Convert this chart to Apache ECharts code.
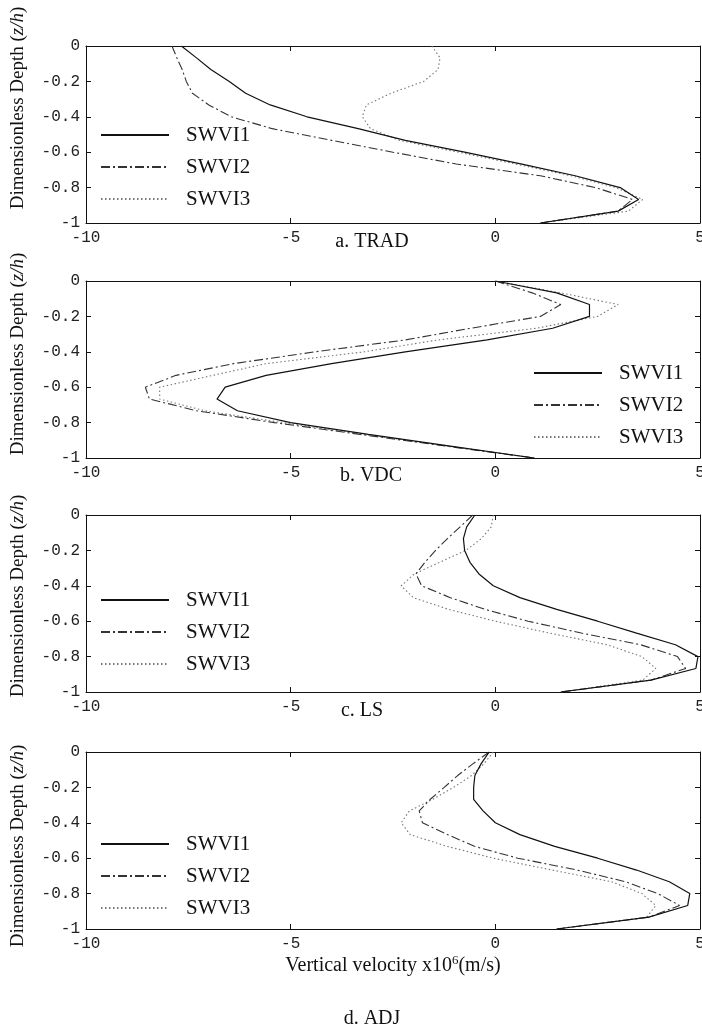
<!DOCTYPE html>
<html>
<head>
<meta charset="utf-8">
<script src="https://cdn.jsdelivr.net/npm/echarts@6/dist/echarts.min.js"></script>
<style>
html,body{margin:0;padding:0;background:#fff;overflow:hidden;}
#chart{width:702px;height:1025px;}
</style>
</head>
<body>
<div id="chart"></div>
<script>
// ---- data ----
const depth = [0, -0.067, -0.133, -0.2, -0.267, -0.333, -0.4, -0.467, -0.533, -0.6, -0.667, -0.733, -0.8, -0.867, -0.933, -1];
const seriesNames = ['SWVI1', 'SWVI2', 'SWVI3'];
const panelTitles = ['a. TRAD', 'b. VDC', 'c. LS', 'd. ADJ'];
const xTickLabels = ['-10', '-5', '0', '5'];
const yTickLabels = ['-1', '-0.8', '-0.6', '-0.4', '-0.2', '0'];
const yAxisTitle = 'Dimensionless Depth (';
const yAxisTitleItalic = 'z/h';
const xAxisTitle = 'Vertical velocity x10';
const xAxisTitleSup = '6';
const xAxisTitleUnit = '(m/s)';

// TRAD
const tradSWVI1 = [-7.67, -7.3, -6.95, -6.5, -6.1, -5.5, -4.6, -3.35, -2.2, -0.75, 0.65, 1.95, 3.05, 3.5, 3.0, 1.1];
const tradSWVI2 = [-7.9, -7.78, -7.65, -7.55, -7.4, -7.0, -6.45, -5.45, -4.0, -2.5, -0.95, 1.1, 2.45, 3.35, 3.0, 1.1];
const tradSWVI3 = [-1.55, -1.35, -1.4, -1.75, -2.55, -3.15, -3.25, -3.05, -2.35, -0.9, 0.5, 1.85, 2.95, 3.6, 3.25, 1.1];
// VDC
const vdcSWVI1 = [0.0, 1.5, 2.3, 2.3, 1.4, -0.2, -2.2, -4.0, -5.6, -6.6, -6.8, -6.3, -5.0, -3.1, -1.1, 0.95];
const vdcSWVI2 = [0.0, 0.9, 1.6, 1.1, -0.6, -2.2, -4.4, -6.4, -7.8, -8.55, -8.45, -7.3, -5.4, -3.3, -1.2, 0.95];
const vdcSWVI3 = [0.0, 1.6, 3.0, 2.5, 1.0, -1.4, -3.2, -5.6, -6.9, -8.2, -8.2, -7.1, -5.2, -3.2, -1.15, 0.95];
// LS
const lsSWVI1 = [-0.5, -0.7, -0.78, -0.75, -0.62, -0.4, -0.05, 0.6, 1.5, 2.5, 3.45, 4.4, 4.95, 4.9, 3.8, 1.6];
const lsSWVI2 = [-0.55, -0.86, -1.17, -1.46, -1.72, -1.94, -1.8, -1.1, -0.25, 0.8, 2.1, 3.55, 4.45, 4.65, 3.8, 1.6];
const lsSWVI3 = [-0.05, -0.1, -0.34, -0.72, -1.36, -1.98, -2.3, -2.0, -1.15, 0.0, 1.32, 2.73, 3.58, 3.92, 3.6, 1.6];
// ADJ
const adjSWVI1 = [-0.15, -0.35, -0.5, -0.53, -0.53, -0.3, 0.0, 0.6, 1.45, 2.5, 3.45, 4.25, 4.75, 4.7, 3.75, 1.5];
const adjSWVI2 = [-0.15, -0.55, -0.92, -1.25, -1.59, -1.86, -1.78, -1.16, -0.51, 0.55, 2.0, 3.18, 3.97, 4.5, 3.75, 1.5];
const adjSWVI3 = [-0.05, -0.28, -0.58, -1.02, -1.53, -2.1, -2.3, -2.08, -1.18, -0.05, 1.39, 2.84, 3.58, 3.92, 3.7, 1.5];

const panels = [
  [tradSWVI1, tradSWVI2, tradSWVI3],
  [vdcSWVI1, vdcSWVI2, vdcSWVI3],
  [lsSWVI1, lsSWVI2, lsSWVI3],
  [adjSWVI1, adjSWVI2, adjSWVI3]
];

// ---- layout / style ----
const gridTops = [46, 281, 515, 752];
const gridH = 177;
const gridLeft = 86;
const gridW = 614;
const legendPos = [
  {left: 95, top: 119},
  {left: 528, top: 357},
  {left: 95, top: 584},
  {left: 95, top: 828}
];
const yLabelCenters = [108, 354, 596, 846];
const titlePos = [[372, 242], [371, 476], [362, 711], [372, 1019]];

const lineStyles = [
  {color: '#111', width: 1.2, type: 'solid'},
  {color: '#333', width: 1.1, type: [9, 3, 2, 3]},
  {color: '#777', width: 1.1, type: [1.5, 2.5]}
];

const monoFont = 'Liberation Mono';
const serifFont = 'Liberation Serif';

const xFmt = v => {
  const idx = [-10, -5, 0, 5].indexOf(Math.round(v));
  return idx >= 0 ? xTickLabels[idx] : '';
};
const yFmt = v => {
  const idx = Math.round((v + 1) / 0.2);
  return yTickLabels[idx] !== undefined ? yTickLabels[idx] : '';
};

const grids = [], xAxes = [], yAxes = [], series = [], legends = [], graphics = [];
panels.forEach((p, i) => {
  grids.push({left: gridLeft, top: gridTops[i], width: gridW, height: gridH,
    containLabel: false, outerBoundsMode: 'none'});
  const axisLine = {show: true, onZero: false, lineStyle: {color: '#111', width: 1}};
  const tick = {show: true, inside: true, length: 5, lineStyle: {color: '#111'}};
  xAxes.push({
    type: 'value', gridIndex: i, min: -10, max: 5, interval: 5, position: 'bottom',
    axisLine, axisTick: tick, splitLine: {show: false},
    axisLabel: {formatter: xFmt, fontFamily: monoFont, fontSize: 16, color: '#222', margin: 7}
  });
  xAxes.push({
    type: 'value', gridIndex: i, min: -10, max: 5, interval: 5, position: 'top',
    axisLine, axisTick: tick, splitLine: {show: false}, axisLabel: {show: false}
  });
  yAxes.push({
    type: 'value', gridIndex: i, min: -1, max: 0, interval: 0.2, position: 'left',
    axisLine, axisTick: tick, splitLine: {show: false},
    axisLabel: {formatter: yFmt, fontFamily: monoFont, fontSize: 16, color: '#222', margin: 6}
  });
  yAxes.push({
    type: 'value', gridIndex: i, min: -1, max: 0, interval: 0.2, position: 'right',
    axisLine, axisTick: tick, splitLine: {show: false}, axisLabel: {show: false}
  });
  p.forEach((vals, k) => {
    series.push({
      type: 'line', name: seriesNames[k],
      xAxisIndex: 2 * i, yAxisIndex: 2 * i,
      symbol: 'none', showSymbol: false, smooth: false, animation: false,
      lineStyle: lineStyles[k], itemStyle: {color: lineStyles[k].color},
      data: vals.map((v, j) => [v, depth[j]]),
      z: 3 - k
    });
  });
  legends.push({
    data: seriesNames, orient: 'vertical', left: legendPos[i].left, top: legendPos[i].top,
    itemWidth: 68, itemHeight: 10, itemGap: 10, selectedMode: false,
    itemStyle: {opacity: 0},
    textStyle: {fontFamily: serifFont, fontSize: 21, color: '#111', lineHeight: 22, padding: [0, 0, 0, 12]}
  });
  graphics.push({
    type: 'text', x: 18, y: yLabelCenters[i], rotation: Math.PI / 2,
    style: {
      text: '{n|' + yAxisTitle + '}{it|' + yAxisTitleItalic + '}{n|)}',
      textAlign: 'center', textVerticalAlign: 'middle',
      rich: {
        n: {fontFamily: serifFont, fontSize: 19, fill: '#111'},
        it: {fontFamily: serifFont, fontSize: 19, fontStyle: 'italic', fill: '#111'}
      }
    }
  });
  graphics.push({
    type: 'text', x: titlePos[i][0], y: titlePos[i][1],
    style: {text: panelTitles[i], textAlign: 'center', textVerticalAlign: 'middle',
      fontFamily: serifFont, fontSize: 20, fill: '#111'}
  });
});
graphics.push({
  type: 'text', x: 393, y: 966,
  style: {
    text: '{n|' + xAxisTitle + '}{s|' + xAxisTitleSup + '}{n|' + xAxisTitleUnit + '}',
    textAlign: 'center', textVerticalAlign: 'middle',
    rich: {
      n: {fontFamily: serifFont, fontSize: 20, fill: '#111'},
      s: {fontFamily: serifFont, fontSize: 13, fill: '#111', padding: [0, 0, 10, 0]}
    }
  }
});

const chart = echarts.init(document.getElementById('chart'), null, {renderer: 'canvas'});
chart.setOption({
  animation: false,
  backgroundColor: '#fff',
  grid: grids, xAxis: xAxes, yAxis: yAxes, series, legend: legends, graphic: graphics
});
</script>
</body>
</html>
